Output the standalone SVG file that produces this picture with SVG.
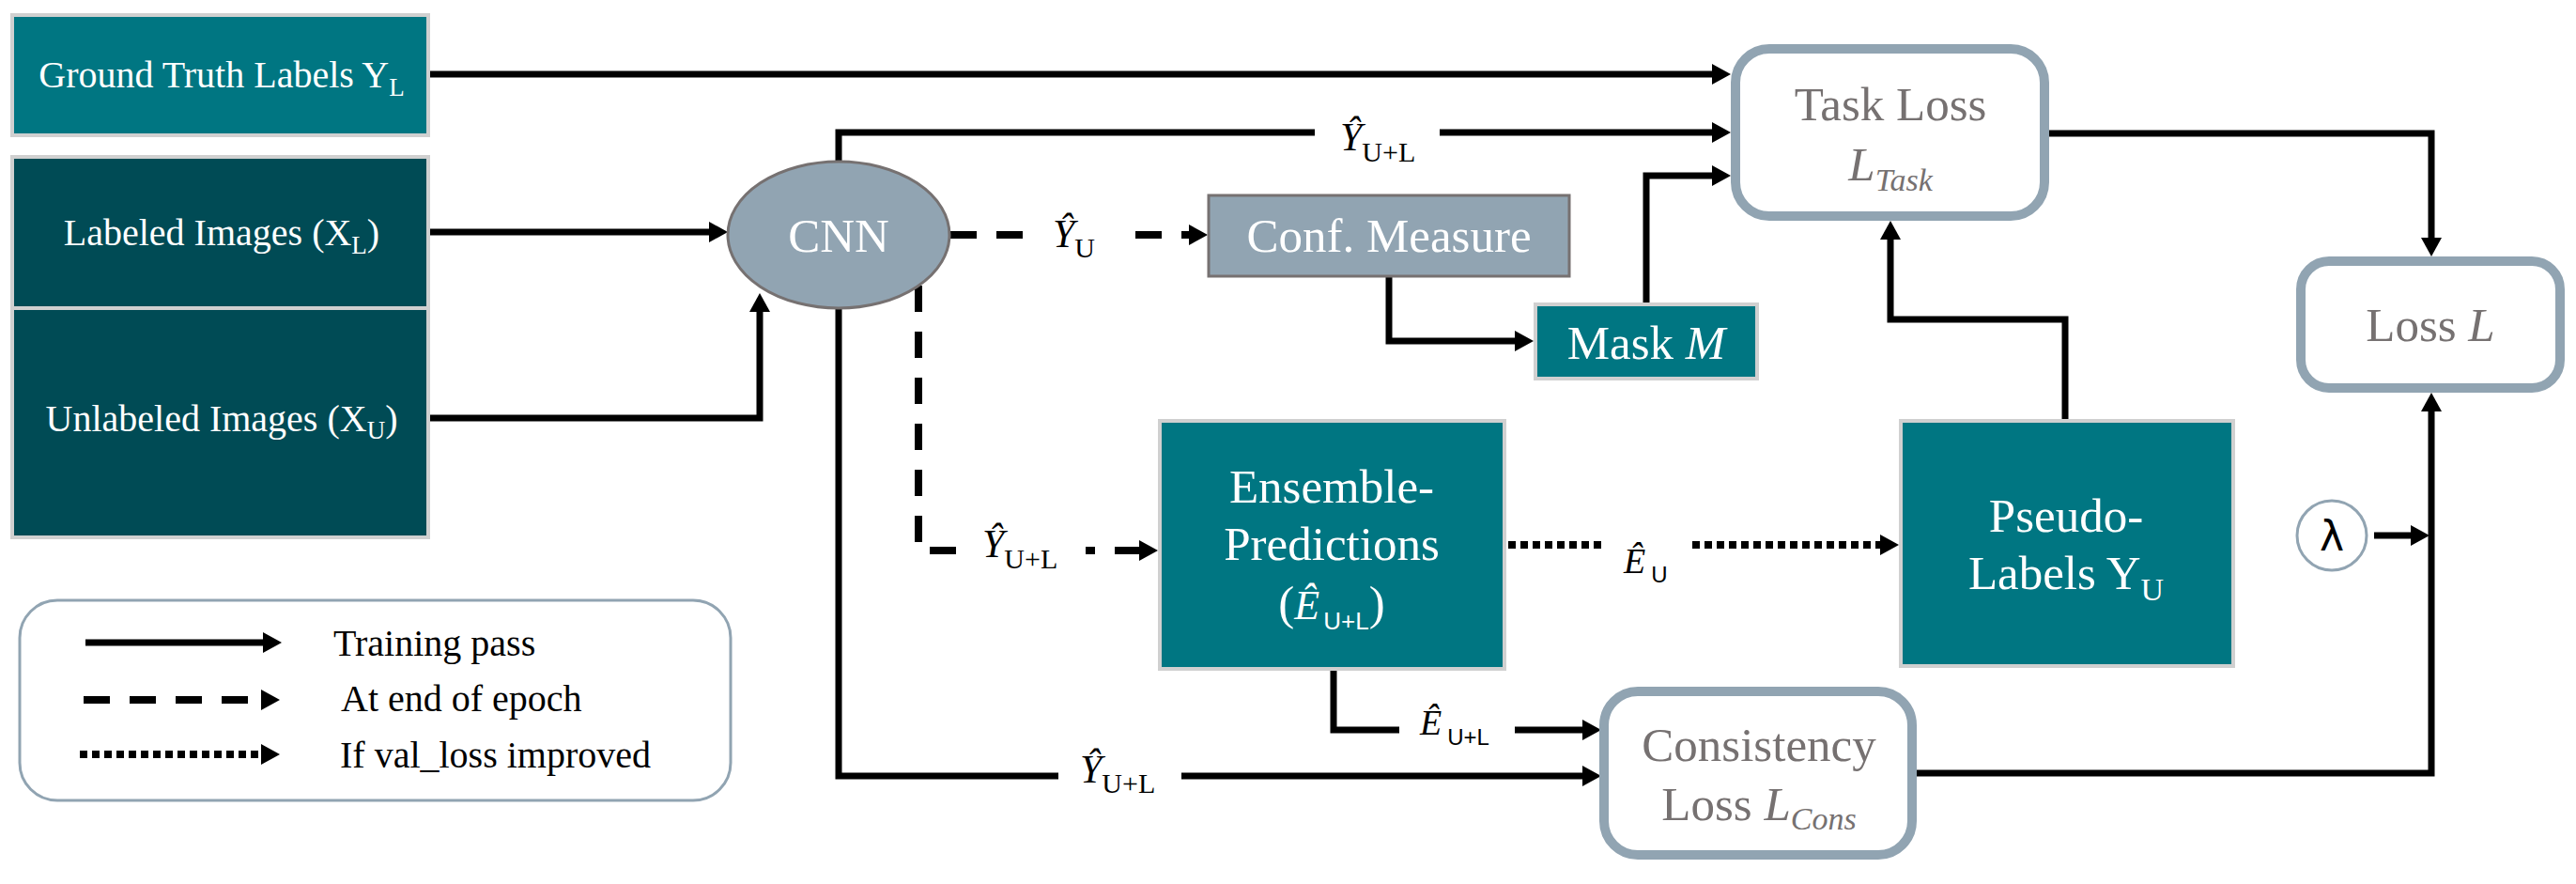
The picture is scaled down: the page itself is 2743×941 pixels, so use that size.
<svg xmlns="http://www.w3.org/2000/svg" width="2743" height="941" viewBox="0 0 2743 941">
<style>
.t{font-family:"Liberation Serif","Times New Roman",serif}
.w{fill:#ffffff}
.g{fill:#767171}
.k{fill:#000000}
.c{text-anchor:middle}
.b{font-size:51px}
.s{font-size:40px}
.i{font-style:italic}
.sans{font-family:"Liberation Sans",Arial,sans-serif}
.teal{fill:#007682;stroke:#d0d0d0;stroke-width:4}
.dark{fill:#004b55;stroke:#d0d0d0;stroke-width:4}
.loss{fill:#ffffff;stroke:#91a4b2;stroke-width:10}
.ln{fill:none;stroke:#000;stroke-width:7}
.dash{stroke-dasharray:28 21;stroke-width:8}
.dot{stroke-dasharray:8 5;stroke-width:8}
</style>
<defs>
<marker id="ah" viewBox="0 0 20 22" markerUnits="userSpaceOnUse" markerWidth="20" markerHeight="22" refX="10" refY="11" orient="auto">
<path d="M0,0 L20,11 L0,22 z" fill="#000"/>
</marker>
</defs>
<rect width="2743" height="941" fill="#ffffff"/>

<g id="connectors">
<path class="ln" d="M458,79 H1833" marker-end="url(#ah)"/>
<path class="ln" d="M893,172 V141 H1400"/>
<path class="ln" d="M1533,141 H1833" marker-end="url(#ah)"/>
<path class="ln" d="M1753,322 V187 H1833" marker-end="url(#ah)"/>
<path class="ln" d="M458,247 H765" marker-end="url(#ah)"/>
<path class="ln" d="M458,445 H809 V322" marker-end="url(#ah)"/>
<path class="ln dash" d="M1012,250 H1095"/>
<path class="ln dash" d="M1209,250 H1276" marker-end="url(#ah)"/>
<path class="ln" d="M1479,295 V363 H1623" marker-end="url(#ah)"/>
<path class="ln dash" d="M978,304 V586 H1019"/>
<path class="ln dash" style="stroke-dasharray:10 21 100" d="M1156,586 H1223" marker-end="url(#ah)"/>
<path class="ln dot" d="M1606,580 H1707"/>
<path class="ln dot" d="M1802,580 H2012" marker-end="url(#ah)"/>
<path class="ln" d="M1420,714 V777 H1490"/>
<path class="ln" d="M1613,777 H1695" marker-end="url(#ah)"/>
<path class="ln" d="M893,328 V826 H1127"/>
<path class="ln" d="M1258,826 H1695" marker-end="url(#ah)"/>
<path class="ln" d="M2199,446 V340 H2013 V245" marker-end="url(#ah)"/>
<path class="ln" d="M2182,142 H2589 V263" marker-end="url(#ah)"/>
<path class="ln" d="M2041,823 H2589 V428" marker-end="url(#ah)"/>
<path class="ln" d="M2528,570 H2577" marker-end="url(#ah)"/>
<text class="t k" x="1427" y="160" style="font-size:42px;font-style:italic">Ŷ<tspan style="font-style:normal;font-size:30px" dy="12">U+L</tspan></text>
<text class="t k" x="1121" y="263" style="font-size:42px;font-style:italic">Ŷ<tspan style="font-style:normal;font-size:30px" dy="11">U</tspan></text>
<text class="t k" x="1046" y="593" style="font-size:42px;font-style:italic">Ŷ<tspan style="font-style:normal;font-size:30px" dy="12">U+L</tspan></text>
<text class="t k" x="1150" y="833" style="font-size:42px;font-style:italic">Ŷ<tspan style="font-style:normal;font-size:30px" dy="11">U+L</tspan></text>
<text class="t k" x="1729" y="610" style="font-size:38px;font-style:italic">Ê<tspan class="sans" style="font-style:normal;font-size:24px" dx="6" dy="10">U</tspan></text>
<text class="t k" x="1512" y="782" style="font-size:38px;font-style:italic">Ê<tspan class="sans" style="font-style:normal;font-size:24px" dx="6" dy="11">U+L</tspan></text>
</g>

<g id="ground-truth">
<rect class="teal" x="13" y="16" width="443" height="128"/>
<text class="t w c s" x="236" y="93">Ground Truth Labels Y<tspan style="font-size:27px" dy="9">L</tspan></text>
</g>
<g id="labeled-images">
<rect class="dark" x="13" y="167" width="443" height="161"/>
<text class="t w c s" x="236" y="261">Labeled Images (X<tspan style="font-size:27px" dy="9">L</tspan><tspan dy="-9">)</tspan></text>
</g>
<g id="unlabeled-images">
<rect class="dark" x="13" y="328" width="443" height="244"/>
<text class="t w c s" x="236" y="459">Unlabeled Images (X<tspan style="font-size:27px" dy="8">U</tspan><tspan dy="-8">)</tspan></text>
</g>
<g id="cnn">
<ellipse cx="893" cy="250" rx="118" ry="78" fill="#91a4b2" stroke="#767171" stroke-width="3"/>
<text class="t w c b" x="893" y="268">CNN</text>
</g>
<g id="conf-measure">
<rect x="1287" y="208" width="384" height="86" fill="#91a4b2" stroke="#767171" stroke-width="3"/>
<text class="t w c b" x="1479" y="268">Conf. Measure</text>
</g>
<g id="mask">
<rect class="teal" x="1635" y="324" width="236" height="79"/>
<text class="t w c b" x="1753" y="382">Mask <tspan class="i">M</tspan></text>
</g>
<g id="task-loss">
<rect class="loss" x="1848" y="52" width="329" height="178" rx="36"/>
<text class="t g c b" x="2013" y="128">Task Loss</text>
<text class="t g c b i" x="2013" y="192">L<tspan style="font-size:34px" dy="11">Task</tspan></text>
</g>
<g id="loss">
<rect class="loss" x="2450" y="278" width="276" height="135" rx="30"/>
<text class="t g c b" x="2588" y="363">Loss <tspan class="i">L</tspan></text>
</g>
<g id="ensemble">
<rect class="teal" x="1235" y="448" width="367" height="264"/>
<text class="t w c b" x="1418" y="535">Ensemble-</text>
<text class="t w c b" x="1418" y="596">Predictions</text>
<text class="t w c b" x="1418" y="659">(<tspan class="i" style="font-size:44px">Ê</tspan><tspan class="sans" style="font-size:26px" dx="4" dy="11">U+L</tspan><tspan dy="-11">)</tspan></text>
</g>
<g id="pseudo-labels">
<rect class="teal" x="2024" y="448" width="354" height="261"/>
<text class="t w c b" x="2200" y="566">Pseudo-</text>
<text class="t w c b" x="2200" y="627">Labels Y<tspan style="font-size:34px" dy="12">U</tspan></text>
</g>
<g id="consistency-loss">
<rect class="loss" x="1708" y="736" width="328" height="174" rx="36"/>
<text class="t g c b" x="1873" y="810">Consistency</text>
<text class="t g c b" x="1873" y="873">Loss <tspan class="i">L</tspan><tspan class="i" style="font-size:34px" dy="10">Cons</tspan></text>
</g>
<g id="lambda">
<circle cx="2483" cy="570" r="37" fill="#ffffff" stroke="#91a4b2" stroke-width="3"/>
<text x="2483" y="586" class="c" style="font-family:'DejaVu Sans',sans-serif;font-size:44px;fill:#000">λ</text>
</g>
<g id="legend">
<rect x="21" y="639" width="757" height="213" rx="40" fill="#ffffff" stroke="#91a4b2" stroke-width="3"/>
<path class="ln" d="M91,684 H290" marker-end="url(#ah)"/>
<path class="ln dash" d="M89,745 H288" marker-end="url(#ah)"/>
<path class="ln dot" d="M85,803 H288" marker-end="url(#ah)"/>
<text class="t k s" x="355" y="698">Training pass</text>
<text class="t k s" x="363" y="757">At end of epoch</text>
<text class="t k s" x="362" y="817">If val_loss improved</text>
</g>
</svg>
